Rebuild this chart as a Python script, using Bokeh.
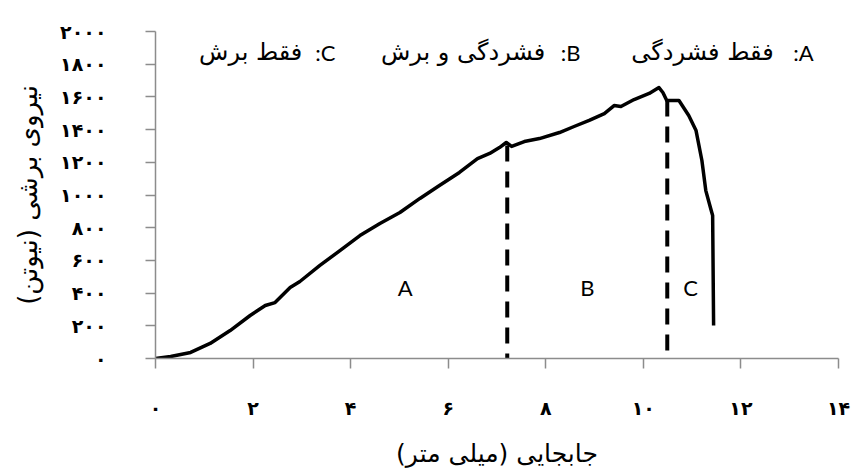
from bokeh.plotting import figure
from bokeh.models import Range1d, Label, FixedTicker
from bokeh.core.properties import value
from bokeh.embed import file_html
from bokeh.resources import INLINE

# ---- data ----
displacement = [0.0, 0.31, 0.72, 1.12, 1.53, 1.94, 2.25, 2.45, 2.76, 2.96, 3.37, 3.78,
                4.19, 4.60, 5.01, 5.42, 5.82, 6.23, 6.60, 6.85, 7.05, 7.19, 7.30, 7.56,
                7.87, 8.28, 8.58, 8.89, 9.20, 9.40, 9.54, 9.81, 10.12, 10.32, 10.40,
                10.48, 10.73, 10.93, 11.08, 11.20, 11.28, 11.38, 11.42, 11.44]
force = [0, 12, 37, 92, 171, 263, 324, 342, 434, 471, 569, 660,
         752, 826, 893, 979, 1058, 1138, 1223, 1254, 1290, 1321, 1297, 1327,
         1345, 1382, 1419, 1456, 1498, 1547, 1541, 1584, 1621, 1657, 1627,
         1578, 1578, 1486, 1394, 1211, 1027, 917, 875, 202]

boundary_x = [7.21, 10.49]
boundary_top = [1303, 1578]
boundary_bottom = [0, 0]

region_names = ["A", "B", "C"]
region_x = [5.12, 8.85, 10.97]
region_y = [434, 434, 434]

legend_letters = ["A", "B", "C"]
legend_texts = ["فقط فشردگی", "فشردگی و برش", "فقط برش"]

x_ticks = [0, 2, 4, 6, 8, 10, 12, 14]
x_tick_labels = ["۰", "۲", "۴", "۶", "۸", "۱۰", "۱۲", "۱۴"]
y_ticks = [0, 200, 400, 600, 800, 1000, 1200, 1400, 1600, 1800, 2000]
y_tick_labels = ["۰", "۲۰۰", "۴۰۰", "۶۰۰", "۸۰۰", "۱۰۰۰", "۱۲۰۰", "۱۴۰۰", "۱۶۰۰", "۱۸۰۰", "۲۰۰۰"]

x_title = "جابجایی (میلی متر)"
y_title = "نیروی برشی (نیوتن)"

# ---- figure ----
p = figure(width=854, height=475, x_range=Range1d(0, 14), y_range=Range1d(0, 2000),
           output_backend="svg", toolbar_location=None,
           min_border_left=155, min_border_right=16, min_border_top=31, min_border_bottom=117)
p.xgrid.visible = False
p.ygrid.visible = False
p.outline_line_color = None
p.background_fill_color = "white"
p.border_fill_color = "white"

axis_grey = "#8c8c8c"
for ax in (p.xaxis[0], p.yaxis[0]):
    ax.axis_line_color = axis_grey
    ax.axis_line_width = 1.5
    ax.major_tick_line_color = axis_grey
    ax.major_tick_line_width = 1.5
    ax.major_tick_out = 10
    ax.major_tick_in = 0
    ax.minor_tick_out = 0
    ax.minor_tick_in = 0
    ax.minor_tick_line_color = None
    ax.major_label_text_font = "DejaVu Sans"
    ax.major_label_text_font_size = "19px"
    ax.major_label_text_font_style = "bold"
    ax.major_label_text_color = "black"
    ax.axis_label_text_font = "DejaVu Sans"
    ax.axis_label_text_font_style = "normal"
    ax.axis_label_text_color = "black"

p.xaxis[0].ticker = FixedTicker(ticks=x_ticks)
p.xaxis[0].major_label_overrides = dict(zip(x_ticks, x_tick_labels))
p.xaxis[0].major_label_standoff = 28
p.xaxis[0].axis_label = x_title
p.xaxis[0].axis_label_text_font_size = "25px"
p.xaxis[0].axis_label_standoff = 17

p.yaxis[0].ticker = FixedTicker(ticks=y_ticks)
p.yaxis[0].major_label_overrides = dict(zip(y_ticks, y_tick_labels))
p.yaxis[0].major_label_standoff = 39
p.yaxis[0].axis_label = y_title
p.yaxis[0].axis_label_text_font_size = "26px"
p.yaxis[0].axis_label_standoff = 14

# curve
p.line(displacement, force, line_width=3.5, line_color="black", line_join="round")

# region boundaries
p.segment(x0=boundary_x, y0=boundary_top, x1=boundary_x, y1=boundary_bottom,
          line_width=4, line_color="black", line_dash="16 10")

# region letters
p.text(x=region_x, y=region_y, text=region_names, text_font=value("Lato"),
       text_font_size="22px", text_align="center", text_baseline="middle",
       text_color="black")

# legend-like line on top, laid out right-to-left as in the reference:
# the letter sits rightmost with its colon on its left, then the Persian text
letter_right = [13.49, 8.71, 3.69]
text_right = [12.67, 7.99, 3.01]
for lt, t, xl, xt in zip(legend_letters, legend_texts, letter_right, text_right):
    p.add_layout(Label(x=xl, y=1872, text=":" + lt, text_align="right",
                       text_baseline="alphabetic", text_font="Lato",
                       text_font_size="22px", text_color="black"))
    p.add_layout(Label(x=xt, y=1872, text=t, text_align="right",
                       text_baseline="alphabetic", text_font="DejaVu Sans",
                       text_font_size="24px", text_color="black"))

open("out.html", "w").write(file_html(p, INLINE))
